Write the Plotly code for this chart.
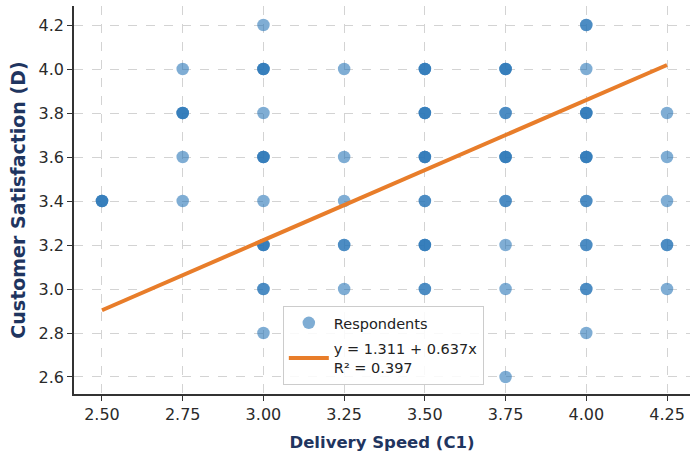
import plotly.graph_objects as go

# Respondent-level data (x = Delivery Speed C1, y = Customer Satisfaction D)
delivery_speed = (
    [2.50] * 3
    + [2.75] * 1 + [2.75] * 3 + [2.75] * 1 + [2.75] * 1
    + [3.00] * 1 + [3.00] * 3 + [3.00] * 1 + [3.00] * 3 + [3.00] * 1 + [3.00] * 3 + [3.00] * 2 + [3.00] * 1
    + [3.25] * 1 + [3.25] * 1 + [3.25] * 1 + [3.25] * 2 + [3.25] * 1
    + [3.50] * 3 + [3.50] * 3 + [3.50] * 3 + [3.50] * 2 + [3.50] * 3 + [3.50] * 2
    + [3.75] * 3 + [3.75] * 2 + [3.75] * 3 + [3.75] * 2 + [3.75] * 1 + [3.75] * 1 + [3.75] * 1
    + [4.00] * 2 + [4.00] * 1 + [4.00] * 3 + [4.00] * 3 + [4.00] * 2 + [4.00] * 2 + [4.00] * 2 + [4.00] * 1
    + [4.25] * 1 + [4.25] * 1 + [4.25] * 1 + [4.25] * 2 + [4.25] * 1
)
satisfaction = (
    [3.4] * 3
    + [4.0] * 1 + [3.8] * 3 + [3.6] * 1 + [3.4] * 1
    + [4.2] * 1 + [4.0] * 3 + [3.8] * 1 + [3.6] * 3 + [3.4] * 1 + [3.2] * 3 + [3.0] * 2 + [2.8] * 1
    + [4.0] * 1 + [3.6] * 1 + [3.4] * 1 + [3.2] * 2 + [3.0] * 1
    + [4.0] * 3 + [3.8] * 3 + [3.6] * 3 + [3.4] * 2 + [3.2] * 3 + [3.0] * 2
    + [4.0] * 3 + [3.8] * 2 + [3.6] * 3 + [3.4] * 2 + [3.2] * 1 + [3.0] * 1 + [2.6] * 1
    + [4.2] * 2 + [4.0] * 1 + [3.8] * 3 + [3.6] * 3 + [3.4] * 2 + [3.2] * 2 + [3.0] * 2 + [2.8] * 1
    + [3.8] * 1 + [3.6] * 1 + [3.4] * 1 + [3.2] * 2 + [3.0] * 1
)

# Regression results
intercept = 1.311
slope = 0.637
r_squared = 0.397

x_ticks = [2.50, 2.75, 3.00, 3.25, 3.50, 3.75, 4.00, 4.25]
y_ticks = [2.6, 2.8, 3.0, 3.2, 3.4, 3.6, 3.8, 4.0, 4.2]

x_line = [min(delivery_speed), max(delivery_speed)]
y_line = [intercept + slope * v for v in x_line]

FONT = "DejaVu Sans"
TITLE_COLOR = "#1f3560"

fig = go.Figure()
fig.add_trace(go.Scatter(
    x=delivery_speed, y=satisfaction, mode="markers", name="Respondents",
    legendgroup="a",
    marker=dict(size=12.5, color="#2a76b8", opacity=0.6, line=dict(width=0)),
))
fig.add_trace(go.Scatter(
    x=x_line, y=y_line, mode="lines", legendgroup="b",
    name=f"y = {intercept:.3f} + {slope:.3f}x<br>R² = {r_squared:.3f}",
    line=dict(color="#e87d2a", width=4),
))

axis_common = dict(
    showgrid=True, gridcolor="#d3d3d3", griddash="dash", gridwidth=1,
    showline=True, linecolor="#333333", linewidth=1.5,
    ticks="outside", ticklen=5, tickcolor="#333333",
    tickfont=dict(family=FONT, size=16, color="#2a2a2a"),
    zeroline=False, mirror=False, automargin=False,
)

fig.update_layout(
    width=690, height=460,
    margin=dict(l=74, r=0, t=6, b=66),
    paper_bgcolor="white", plot_bgcolor="white",
    font=dict(family=FONT),
    xaxis=dict(
        range=[2.4133, 4.3212], tickvals=x_ticks, tickformat=".2f",
        title=dict(text="<b>Delivery Speed (C1)</b>", font=dict(family=FONT, size=16.5, color=TITLE_COLOR), standoff=13),
        **axis_common,
    ),
    yaxis=dict(
        range=[2.5227, 4.2864], tickvals=y_ticks, tickformat=".1f",
        title=dict(text="<b>Customer Satisfaction (D)</b>", font=dict(family=FONT, size=19, color=TITLE_COLOR), standoff=8),
        **axis_common,
    ),
    legend=dict(
        x=0.339, y=0.227, xanchor="left", yanchor="top",
        bgcolor="rgba(255,255,255,0.85)", bordercolor="#cccccc", borderwidth=1,
        font=dict(family=FONT, size=14.5, color="#222222"),
        itemwidth=40, tracegroupgap=4,
    ),
    showlegend=True,
)

fig.write_html(
    "out.html",
    config={"displayModeBar": False},
    post_script="document.body.style.margin='0px';",
)
